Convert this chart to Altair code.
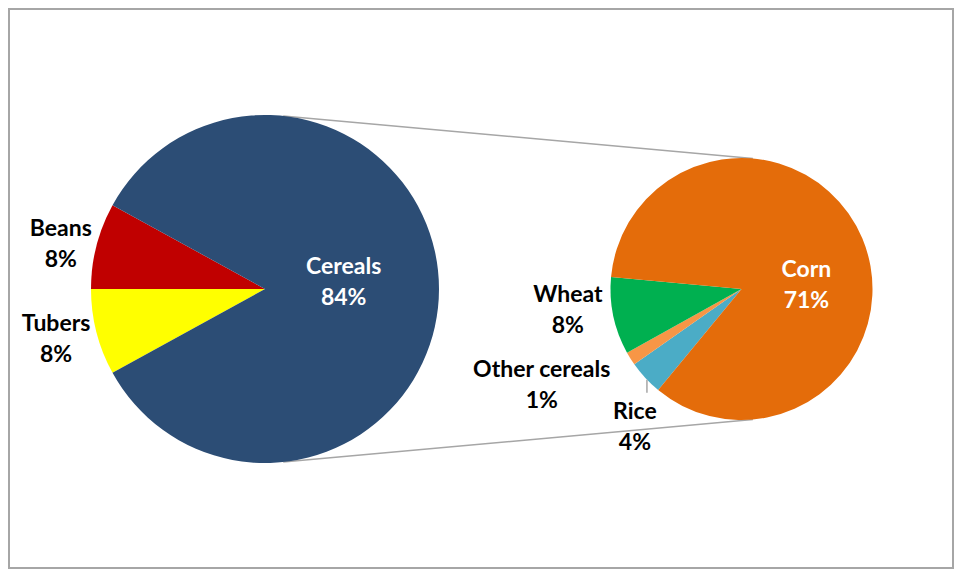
import math
import altair as alt
import pandas as pd

# ---- data -------------------------------------------------------------
main_labels = ["Tubers", "Beans", "Cereals"]
main_values = [8, 8, 84]
main_colors = ["#ffff00", "#c00000", "#2c4d75"]
main_text_colors = ["#000000", "#000000", "#ffffff"]

sub_labels = ["Rice", "Other cereals", "Wheat", "Corn"]
sub_values = [3.6, 1.4, 8.0, 71.0]
sub_colors = ["#4bacc6", "#f79646", "#00b050", "#e46c0a"]
sub_text_colors = ["#000000", "#000000", "#000000", "#ffffff"]

# ---- label placement (angle nudge from slice middle in degrees, radius px)
main_label_nudge = [0.8, -2.1, -5.0]
main_label_radius = [215, 209, 79]
sub_label_nudge = [-9.7, 6.2, 4.8, 19.6]
sub_label_radius = [175, 222, 175, 65]

# ---- layout -------------------------------------------------------------
W, H = 944, 559
main_cx, main_cy, main_r = 256, 280, 174
sub_cx, sub_cy, sub_r = 732.5, 280, 131
main_start = 270 - (sum(main_values[:2]) / sum(main_values)) * 360 / 2
sub_start = 219.5
FONT = "Lato"
LINE_H = 31


def frame(labels, values, colors, tcolors, nudge, lrad, cx, cy, start):
    total = sum(values)
    rows, cum = [], 0.0
    for i, (lab, v) in enumerate(zip(labels, values)):
        mid = start + (cum + v / 2) / total * 360
        a = math.radians(mid + nudge[i])
        rows.append({
            "idx": i,
            "cat": lab,
            "value": v,
            "fill": colors[i],
            "tcolor": tcolors[i],
            "text": f"{lab}\n{round(v)}%",
            "lx": cx + lrad[i] * math.sin(a),
            "ly": cy - lrad[i] * math.cos(a),
        })
        cum += v
    return pd.DataFrame(rows)


main_df = frame(main_labels, main_values, main_colors, main_text_colors,
                main_label_nudge, main_label_radius, main_cx, main_cy, main_start)
sub_df = frame(sub_labels, sub_values, sub_colors, sub_text_colors,
               sub_label_nudge, sub_label_radius, sub_cx, sub_cy, sub_start)


def pie(df, cx, cy, r, start):
    total = float(df["value"].sum())
    s = math.radians(start)
    return alt.Chart(df).mark_arc(radius=r).encode(
        theta=alt.Theta("value:Q", stack=True,
                        scale=alt.Scale(domain=[0, total], range=[s, s + 2 * math.pi])),
        order=alt.Order("idx:Q"),
        color=alt.Color("fill:N", scale=None, legend=None),
        x=alt.value(cx),
        y=alt.value(cy),
        tooltip=["cat:N", "value:Q"],
    )


def labels(df):
    return alt.Chart(df).mark_text(
        font=FONT, fontSize=23, fontWeight="bold", lineBreak="\n",
        lineHeight=LINE_H, align="center", baseline="middle", dy=-LINE_H / 2,
    ).encode(
        x=alt.X("lx:Q", scale=None, axis=None),
        y=alt.Y("ly:Q", scale=None, axis=None),
        text="text:N",
        color=alt.Color("tcolor:N", scale=None, legend=None),
    )


# connector lines between the two pies (computed from the pie geometry)
conn_rows = []
for la, ra in [(6, 5), (174, 175)]:
    conn_rows.append({
        "x": main_cx + main_r * math.sin(math.radians(la)),
        "y": main_cy - main_r * math.cos(math.radians(la)),
        "x2": sub_cx + sub_r * math.sin(math.radians(ra)),
        "y2": sub_cy - sub_r * math.cos(math.radians(ra)),
    })
conn_df = pd.DataFrame(conn_rows)

connectors = alt.Chart(conn_df).mark_rule(color="#a6a6a6", strokeWidth=1.5).encode(
    x=alt.X("x:Q", scale=None, axis=None),
    y=alt.Y("y:Q", scale=None, axis=None),
    x2="x2:Q",
    y2="y2:Q",
)

# leader line for the "Rice" label
rice = sub_df[sub_df["cat"] == "Rice"].iloc[0]
leader_df = pd.DataFrame([{
    "x": rice["lx"] + 12, "y": rice["ly"] - 48,
    "x2": rice["lx"] + 12, "y2": rice["ly"] - 35,
}])
leader = alt.Chart(leader_df).mark_rule(color="#a6a6a6", strokeWidth=1.5).encode(
    x=alt.X("x:Q", scale=None, axis=None),
    y=alt.Y("y:Q", scale=None, axis=None),
    x2="x2:Q",
    y2="y2:Q",
)

chart = alt.layer(
    connectors,
    pie(main_df, main_cx, main_cy, main_r, main_start),
    pie(sub_df, sub_cx, sub_cy, sub_r, sub_start),
    leader,
    labels(main_df),
    labels(sub_df),
).resolve_scale(
    theta="independent"
).properties(
    width=W, height=H, autosize="none", padding=1, background="white"
).configure_view(
    stroke="#a6a6a6", strokeWidth=2
)

chart.save("out.html", embed_options={"renderer": "svg", "actions": False})
